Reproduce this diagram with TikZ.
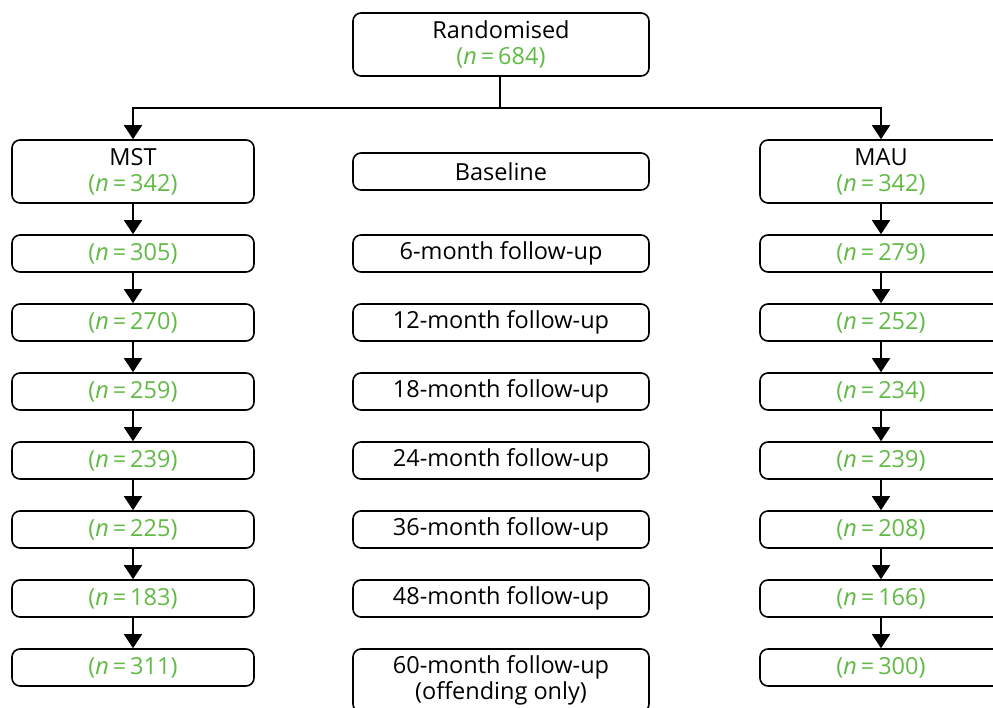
\documentclass[tikz,border=0pt]{standalone}
\usepackage{fontspec}
\setmainfont{Open Sans}
\usetikzlibrary{arrows.meta}
\definecolor{ngreen}{RGB}{98,186,70}
\newcommand{\nn}[1]{\textcolor{ngreen}{(\textit{n}\,=\,#1)}}
\tikzset{
  box/.style={draw, line width=1.6pt, rounded corners=8pt, inner sep=0pt, align=center,
    font=\fontsize{23.5}{26}\selectfont},
  side/.style={box, minimum width=242pt, minimum height=37pt},
  sidetall/.style={box, minimum width=242pt, minimum height=63pt},
  mid/.style={box, minimum width=296pt, minimum height=37pt},
  midtall/.style={box, minimum width=296pt, minimum height=63pt},
  flow/.style={line width=1.6pt, -{Triangle[width=18pt,length=14pt]}},
}
\begin{document}
\begin{tikzpicture}[x=1pt,y=-1pt]
\useasboundingbox (0,0) rectangle (993,708);
\node[midtall] (rand) at (501,44.5) {Randomised\\\nn{684}};
\node[sidetall] (mst) at (133,171.5) {MST\\\nn{342}};
\node[mid] (base) at (501,171.5) {Baseline};
\node[sidetall] (mau) at (881,171.5) {MAU\\\nn{342}};
\coordinate (split) at (500,108);
\draw[line width=1.6pt] (rand.south -| split) -- (split);
\draw[flow] (split) -| (mst.north);
\draw[flow] (split) -| (mau.north);
% rows
\foreach \i/\yy/\l/\lab/\r in {1/253.5/305/6/279, 2/322.5/270/12/252, 3/391.5/259/18/234, 4/460.5/239/24/239, 5/529.5/225/36/208, 6/598.5/183/48/166}{
  \node[side] (L\i) at (133,\yy) {\nn{\l}};
  \node[mid] (C\i) at (501,\yy) {\lab-month follow-up};
  \node[side] (R\i) at (881,\yy) {\nn{\r}};
}
\node[side] (L7) at (133,667.5) {\nn{311}};
\node[midtall] (C7) at (501,680.5) {60-month follow-up\\(offending only)};
\node[side] (R7) at (881,667.5) {\nn{300}};
\draw[flow] (mst) -- (L1);
\draw[flow] (mau) -- (R1);
\foreach \a/\b in {1/2,2/3,3/4,4/5,5/6,6/7}{
  \draw[flow] (L\a) -- (L\b);
  \draw[flow] (R\a) -- (R\b);
}
\end{tikzpicture}
\end{document}
